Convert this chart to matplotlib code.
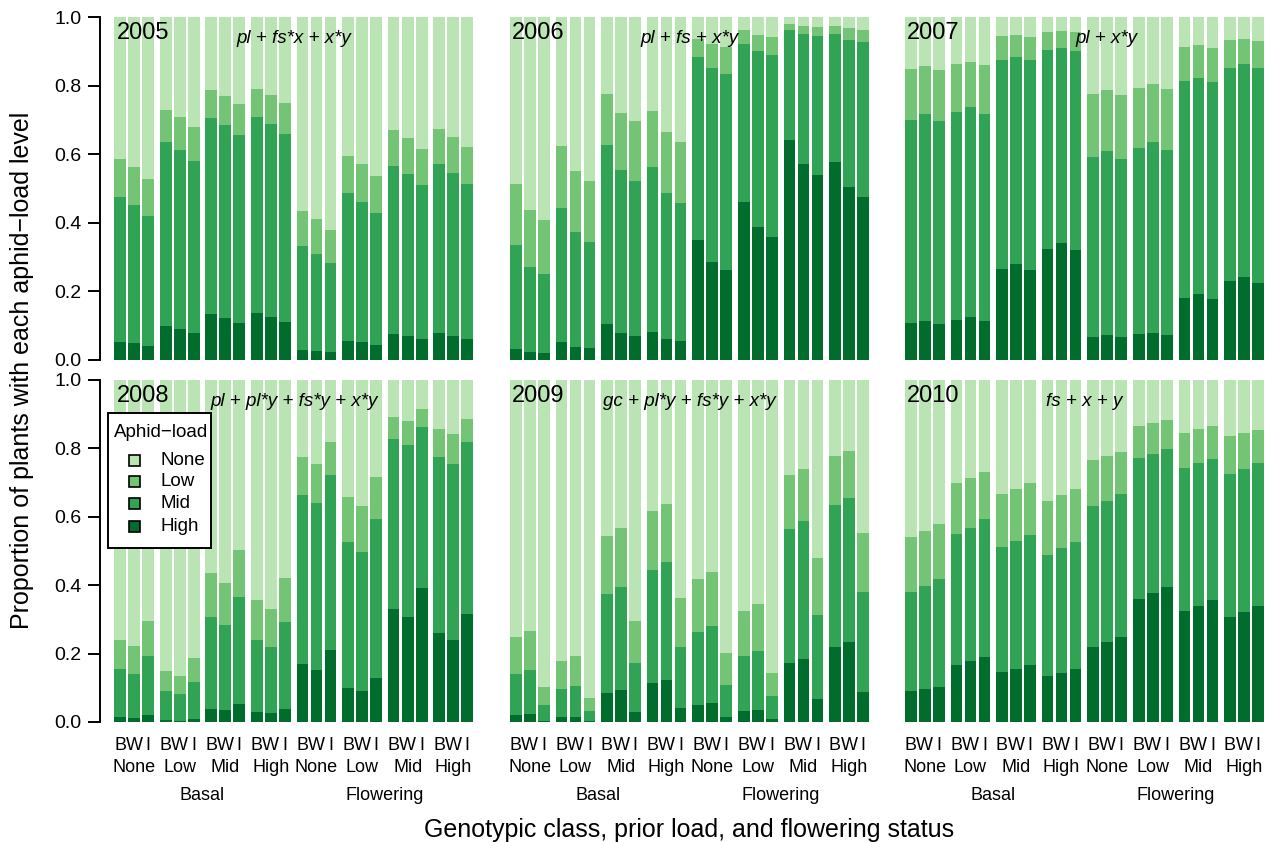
import numpy as np
import matplotlib
matplotlib.use("Agg")
import matplotlib.pyplot as plt
from matplotlib.patches import Rectangle

plt.rcParams['font.family'] = ['Liberation Sans', 'DejaVu Sans']

# Aphid-load levels and their fill colours
levels = ["None", "Low", "Mid", "High"]
level_colors = ["#BAE4B3", "#74C476", "#31A354", "#006D2C"]

genotypes = ["B", "W", "I"]
prior_loads = ["None", "Low", "Mid", "High"]
flower_status = ["Basal", "Flowering"]

years = [2005, 2006, 2007, 2008, 2009, 2010]
formulas = ["pl + fs*x + x*y", "pl + fs + x*y", "pl + x*y",
            "pl + pl*y + fs*y + x*y", "gc + pl*y + fs*y + x*y", "fs + x + y"]

# Cumulative proportions per bar (order: Basal/Flowering x prior load x genotype B,W,I):
# hi = P(High), mid = P(at least Mid), low = P(at least Low)
hi_2005 = [0.052, 0.050, 0.041, 0.099, 0.090, 0.079, 0.134, 0.122, 0.108, 0.137, 0.125, 0.111,
           0.029, 0.026, 0.023, 0.055, 0.052, 0.044, 0.076, 0.070, 0.061, 0.079, 0.070, 0.061]
mid_2005 = [0.475, 0.452, 0.420, 0.636, 0.612, 0.580, 0.706, 0.685, 0.656, 0.708, 0.688, 0.659,
            0.332, 0.309, 0.283, 0.487, 0.461, 0.429, 0.566, 0.542, 0.510, 0.571, 0.545, 0.513]
low_2005 = [0.586, 0.563, 0.528, 0.729, 0.708, 0.679, 0.787, 0.770, 0.746, 0.790, 0.773, 0.749,
            0.434, 0.411, 0.379, 0.595, 0.571, 0.536, 0.671, 0.647, 0.615, 0.673, 0.650, 0.621]

hi_2006 = [0.032, 0.023, 0.020, 0.052, 0.038, 0.035, 0.105, 0.079, 0.070, 0.082, 0.061, 0.055,
           0.350, 0.286, 0.262, 0.461, 0.388, 0.359, 0.641, 0.571, 0.539, 0.577, 0.504, 0.475]
mid_2006 = [0.335, 0.271, 0.251, 0.443, 0.373, 0.344, 0.627, 0.554, 0.522, 0.563, 0.487, 0.458,
            0.883, 0.851, 0.834, 0.921, 0.901, 0.889, 0.962, 0.950, 0.945, 0.950, 0.933, 0.927]
low_2006 = [0.513, 0.437, 0.408, 0.624, 0.551, 0.522, 0.776, 0.720, 0.697, 0.726, 0.665, 0.636,
            0.935, 0.921, 0.912, 0.962, 0.948, 0.942, 0.980, 0.974, 0.971, 0.974, 0.968, 0.962]

hi_2007 = [0.108, 0.114, 0.105, 0.117, 0.125, 0.114, 0.265, 0.280, 0.262, 0.324, 0.341, 0.321,
           0.067, 0.073, 0.067, 0.076, 0.079, 0.073, 0.181, 0.192, 0.178, 0.230, 0.242, 0.224]
mid_2007 = [0.700, 0.717, 0.697, 0.723, 0.738, 0.717, 0.875, 0.883, 0.875, 0.904, 0.910, 0.901,
            0.592, 0.609, 0.586, 0.618, 0.636, 0.612, 0.813, 0.822, 0.810, 0.851, 0.863, 0.851]
low_2007 = [0.848, 0.857, 0.845, 0.863, 0.869, 0.860, 0.945, 0.948, 0.942, 0.956, 0.959, 0.955,
            0.776, 0.787, 0.773, 0.793, 0.805, 0.790, 0.913, 0.918, 0.910, 0.933, 0.936, 0.930]

hi_2008 = [0.015, 0.012, 0.020, 0.006, 0.003, 0.009, 0.038, 0.035, 0.053, 0.029, 0.026, 0.038,
           0.170, 0.152, 0.211, 0.099, 0.091, 0.129, 0.330, 0.307, 0.392, 0.260, 0.240, 0.316]
mid_2008 = [0.155, 0.139, 0.193, 0.091, 0.082, 0.117, 0.307, 0.284, 0.365, 0.240, 0.219, 0.292,
            0.664, 0.640, 0.722, 0.526, 0.497, 0.594, 0.827, 0.810, 0.863, 0.775, 0.754, 0.819]
low_2008 = [0.240, 0.222, 0.295, 0.149, 0.135, 0.187, 0.436, 0.406, 0.503, 0.357, 0.330, 0.421,
            0.775, 0.754, 0.819, 0.658, 0.632, 0.716, 0.892, 0.880, 0.915, 0.857, 0.842, 0.886]

hi_2009 = [0.020, 0.023, 0.003, 0.015, 0.015, 0.003, 0.085, 0.094, 0.029, 0.114, 0.123, 0.041,
           0.050, 0.056, 0.015, 0.032, 0.035, 0.009, 0.173, 0.184, 0.067, 0.219, 0.234, 0.088]
mid_2009 = [0.140, 0.152, 0.050, 0.096, 0.105, 0.032, 0.374, 0.395, 0.173, 0.444, 0.468, 0.219,
            0.263, 0.281, 0.108, 0.193, 0.208, 0.076, 0.564, 0.588, 0.313, 0.634, 0.655, 0.380]
low_2009 = [0.249, 0.266, 0.102, 0.178, 0.193, 0.070, 0.544, 0.567, 0.295, 0.617, 0.637, 0.363,
            0.418, 0.439, 0.202, 0.325, 0.345, 0.143, 0.722, 0.740, 0.480, 0.778, 0.792, 0.553]

hi_2010 = [0.091, 0.096, 0.102, 0.167, 0.178, 0.190, 0.146, 0.155, 0.167, 0.135, 0.143, 0.155,
           0.219, 0.234, 0.249, 0.360, 0.377, 0.395, 0.325, 0.339, 0.357, 0.307, 0.322, 0.339]
mid_2010 = [0.380, 0.398, 0.418, 0.550, 0.567, 0.593, 0.512, 0.529, 0.547, 0.488, 0.509, 0.526,
            0.632, 0.646, 0.667, 0.772, 0.784, 0.798, 0.743, 0.757, 0.769, 0.725, 0.740, 0.757]
low_2010 = [0.541, 0.558, 0.579, 0.699, 0.713, 0.731, 0.667, 0.682, 0.699, 0.646, 0.664, 0.682,
            0.766, 0.778, 0.789, 0.865, 0.874, 0.883, 0.845, 0.857, 0.865, 0.836, 0.845, 0.854]

cumulative = {
    2005: (hi_2005, mid_2005, low_2005),
    2006: (hi_2006, mid_2006, low_2006),
    2007: (hi_2007, mid_2007, low_2007),
    2008: (hi_2008, mid_2008, low_2008),
    2009: (hi_2009, mid_2009, low_2009),
    2010: (hi_2010, mid_2010, low_2010),
}

# ---- layout (pixel based) ----
W, H = 1275, 842
fig = plt.figure(figsize=(W / 100, H / 100), dpi=100)


def fx(px):
    return px / W


def fy(py):
    return 1 - py / H


n_groups = len(flower_status) * len(prior_loads)
bar_w = 1.0
inner = 1.2          # pitch between bars within a group
group_pitch = 3.9    # pitch between groups
lefts = np.array([g * group_pitch + j * inner for g in range(n_groups) for j in range(len(genotypes))])
centers = lefts + bar_w / 2
xlim = (-1.22, 31.0)
px_per_unit = 11.69
ax_w = (xlim[1] - xlim[0]) * px_per_unit

col_left_px = [100.0, 495.7, 890.7]
row_px = [(17, 360), (380, 722)]   # (top, bottom) pixel rows of y=1 and y=0

text_x_center = (lefts[0] + lefts[-1] + bar_w) / 2
formula_x = [text_x_center, text_x_center, text_x_center + 1.9,
             text_x_center, text_x_center, text_x_center]

axes = []
for i, year in enumerate(years):
    r, c = divmod(i, 3)
    top, bot = row_px[r]
    ax = fig.add_axes([fx(col_left_px[c]), fy(bot), ax_w / W, (bot - top) / H])
    axes.append(ax)
    hi, mid, low = (np.array(v) for v in cumulative[year])
    bounds = [np.zeros_like(hi), hi, mid, low, np.ones_like(hi)]
    seg_colors = level_colors[::-1]  # High, Mid, Low, None from the bottom
    for k in range(4):
        ax.bar(centers, bounds[k + 1] - bounds[k], bottom=bounds[k], width=bar_w,
               color=seg_colors[k], linewidth=0)
    ax.set_xlim(*xlim)
    ax.set_ylim(0, 1)
    for s in ["top", "right", "bottom"]:
        ax.spines[s].set_visible(False)
    ax.set_xticks([])
    if c == 0:
        ax.spines["left"].set_linewidth(1.4)
        ax.spines["left"].set_bounds(0, 1)
        ax.set_yticks(np.arange(0, 1.01, 0.2))
        ax.set_yticklabels([f"{v:.1f}" for v in np.arange(0, 1.01, 0.2)])
        ax.tick_params(axis="y", direction="out", length=8.5, width=1.4, pad=5, labelsize=14)
    else:
        ax.spines["left"].set_visible(False)
        ax.set_yticks([])
    ax.text(0.2, 0.952, str(year), fontsize=17, ha="left", va="center")
    ax.text(formula_x[i], 0.937, formulas[i], fontsize=13.5, style="italic",
            ha="center", va="center")

    # category labels under the bottom row
    if r == 1:
        hpx = bot - top
        tr = ax.get_xaxis_transform()
        for k, xc in enumerate(centers):
            ax.text(xc, -23 / hpx, genotypes[k % 3], transform=tr, ha="center", va="center",
                    fontsize=13, clip_on=False)
        for g in range(n_groups):
            gx = (lefts[3 * g] + lefts[3 * g + 2] + bar_w) / 2
            ax.text(gx, -45 / hpx, prior_loads[g % 4], transform=tr, ha="center", va="center",
                    fontsize=13, clip_on=False)
        for f in range(2):
            fxc = (lefts[12 * f] + lefts[12 * f + 11] + bar_w) / 2
            ax.text(fxc, -73 / hpx, flower_status[f], transform=tr, ha="center", va="center",
                    fontsize=13, clip_on=False)

fig.text(fx(689.5), fy(830), "Genotypic class, prior load, and flowering status",
         ha="center", va="center", fontsize=18)
fig.text(fx(22), fy(370), "Proportion of plants with each aphid\u2212load level",
         ha="center", va="center", rotation=90, fontsize=18)

# legend box for aphid-load levels
box_l, box_t, box_r, box_b = 108, 413, 211, 548
fig.patches.append(Rectangle((fx(box_l), fy(box_b)), (box_r - box_l) / W, (box_b - box_t) / H,
                             transform=fig.transFigure, facecolor="white", edgecolor="black",
                             linewidth=1.4, zorder=5))
fig.text(fx(114), fy(432), "Aphid\u2212load", ha="left", va="center", fontsize=13.5, zorder=6)
row_y = [460, 481.5, 504, 526.5]
for lab, col, yy in zip(levels, level_colors, row_y):
    fig.patches.append(Rectangle((fx(128.5), fy(yy + 5.5)), 11.5 / W, 11 / H,
                                 transform=fig.transFigure, facecolor=col, edgecolor="black",
                                 linewidth=1.2, zorder=6))
    fig.text(fx(160), fy(yy), lab, ha="left", va="center", fontsize=13.5, zorder=6)

fig.savefig("out.png", dpi=100)
